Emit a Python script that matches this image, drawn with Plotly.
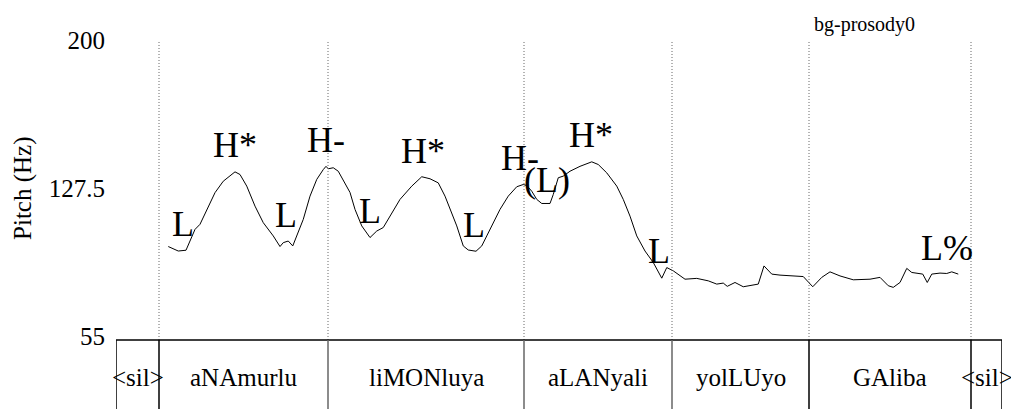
import plotly.graph_objects as go

# pitch track (time in s, F0 in Hz)
time_s = [0.209, 0.249, 0.280, 0.296, 0.316, 0.336, 0.363, 0.396, 0.429, 0.456,
          0.476, 0.496, 0.523, 0.556, 0.589, 0.629, 0.656, 0.669, 0.689, 0.707,
          0.723, 0.749, 0.776, 0.803, 0.829, 0.840, 0.849, 0.869, 0.889, 0.916,
          0.936, 0.956, 0.983, 1.016, 1.043, 1.069, 1.096, 1.136, 1.183, 1.223,
          1.256, 1.289, 1.316, 1.336, 1.363, 1.389, 1.409, 1.440, 1.463, 1.483,
          1.503, 1.536, 1.569, 1.603, 1.629, 1.643, 1.663, 1.683, 1.703, 1.736,
          1.749, 1.769, 1.789, 1.816, 1.856, 1.903, 1.929, 1.963, 2.003, 2.029,
          2.056, 2.083, 2.116, 2.149, 2.183, 2.203, 2.229, 2.276, 2.323, 2.369,
          2.403, 2.429, 2.445, 2.476, 2.509, 2.569, 2.592, 2.623, 2.656, 2.749,
          2.787, 2.823, 2.856, 2.896, 2.949, 3.016, 3.056, 3.089, 3.109, 3.136,
          3.163, 3.183, 3.227, 3.245, 3.263, 3.296, 3.323, 3.343, 3.369]
pitch_hz = [98.8, 96.6, 97.0, 101.5, 107.2, 109.7, 117.0, 125.2, 130.8, 133.3,
            135.4, 134.1, 128.4, 118.6, 110.5, 104.0, 98.8, 100.7, 101.5, 99.1,
            104.0, 112.1, 123.5, 131.7, 136.5, 138.1, 136.9, 137.4, 135.7, 130.0,
            125.3, 117.0, 108.9, 103.2, 106.4, 108.1, 113.7, 121.9, 128.4, 133.0,
            132.0, 130.0, 123.5, 117.0, 108.9, 99.1, 97.1, 96.5, 99.1, 104.0,
            108.9, 117.0, 123.5, 128.1, 129.2, 128.7, 125.9, 121.9, 119.9, 119.9,
            124.3, 132.5, 133.3, 135.7, 138.1, 140.3, 139.0, 134.9, 128.4, 121.9,
            113.7, 104.0, 96.6, 91.0, 83.3, 88.5, 86.9, 82.8, 83.2, 82.0,
            80.4, 80.9, 79.3, 81.2, 79.1, 80.4, 89.3, 85.3, 84.8, 84.1,
            79.1, 83.7, 86.4, 84.4, 82.5, 82.8, 83.7, 79.6, 78.8, 81.2,
            88.1, 86.1, 85.3, 81.2, 85.3, 85.8, 85.6, 86.4, 85.3]

# tone tier
tone_labels = ["L", "H*", "L", "H-", "L", "H*", "L", "H-", "(L)", "H*", "L", "L%"]
tone_time = [0.268, 0.476, 0.680, 0.840, 1.016, 1.228, 1.432, 1.616, 1.724, 1.900, 2.172, 3.324]
tone_hz = [109.8, 148.6, 114.3, 151.0, 116.2, 145.6, 109.4, 142.2, 131.4, 153.5, 96.6, 98.1]

# word tier
word_bounds = [0.0, 0.172, 0.848, 1.632, 2.224, 2.772, 3.420, 3.544]
words = ["<sil>", "aNAmurlu", "liMONluya", "aLANyali", "yolLUyo", "GAliba", "<sil>"]

y_ticks = [55, 127.5, 200]
y_tick_text = ["55", "127.5", "200"]

SERIF = "Liberation Serif, Times New Roman, serif"
TIER_TOP = 0.187

fig = go.Figure()
fig.add_trace(go.Scatter(x=time_s, y=pitch_hz, mode="lines",
                         line=dict(color="black", width=1), hoverinfo="skip"))

shapes = []
# dotted word boundaries over the pitch panel
for b in word_bounds[1:-1]:
    shapes.append(dict(type="line", xref="x", yref="paper", x0=b, x1=b,
                       y0=TIER_TOP, y1=1, line=dict(color="#666", width=1, dash="1px,2px")))
# word tier box
shapes.append(dict(type="line", xref="x", yref="paper", x0=word_bounds[0], x1=word_bounds[-1],
                   y0=TIER_TOP, y1=TIER_TOP, line=dict(color="black", width=1.5)))
for i, b in enumerate(word_bounds):
    col = "#666" if i in (2, 3, 4) else "black"
    shapes.append(dict(type="line", xref="x", yref="paper", x0=b, x1=b,
                       y0=-0.05, y1=TIER_TOP, line=dict(color=col, width=1.5)))

annotations = []
for lab, t, hz in zip(tone_labels, tone_time, tone_hz):
    annotations.append(dict(x=t, y=hz, text=lab, showarrow=False,
                            font=dict(family=SERIF, size=36, color="black")))
for i, w in enumerate(words):
    mid = (word_bounds[i] + word_bounds[i + 1]) / 2
    annotations.append(dict(x=mid, y=0.043, xref="x", yref="paper",
                            text=w.replace("<", "&lt;").replace(">", "&gt;"),
                            showarrow=False, font=dict(family=SERIF, size=25, color="black")))
annotations.append(dict(x=-0.105, y=(200 + 55) / 2, xref="paper", yref="y", text="Pitch (Hz)",
                        xanchor="center", yanchor="middle",
                        textangle=-90, showarrow=False, font=dict(family=SERIF, size=25, color="black")))
annotations.append(dict(x=0.845, y=1.0, xref="paper", yref="paper", xanchor="center",
                        yanchor="bottom", yshift=2,
                        text="bg-prosody0", showarrow=False,
                        font=dict(family=SERIF, size=20, color="black")))

fig.update_layout(
    width=1011, height=409,
    margin=dict(l=116, r=9, t=40, b=0),
    plot_bgcolor="white", paper_bgcolor="white",
    showlegend=False,
    shapes=shapes,
    annotations=annotations,
    xaxis=dict(range=[word_bounds[0], word_bounds[-1]], visible=False, fixedrange=True),
    yaxis=dict(range=[55, 200], domain=[0.198, 1], tickvals=y_ticks, ticktext=y_tick_text,
               showgrid=False, zeroline=False, showline=False, ticks="",
               ticklabelstandoff=10, automargin=False,
               tickfont=dict(family=SERIF, size=25, color="black")),
)

fig.write_html("out.html", config={"displayModeBar": False},
               post_script="document.body.style.margin='0';document.body.style.overflow='hidden';")
